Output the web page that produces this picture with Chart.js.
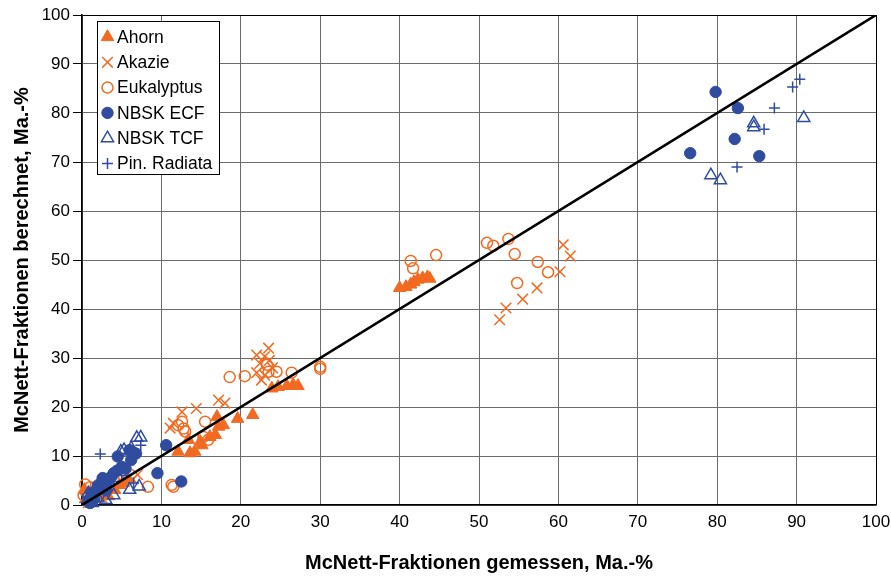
<!DOCTYPE html>
<html>
<head>
<meta charset="utf-8">
<script src="https://cdn.jsdelivr.net/npm/chart.js"></script>
<style>
  body { margin: 0; background: #fff; }
  #wrap { width: 891px; height: 577px; }
</style>
</head>
<body>
<div id="wrap"><canvas id="chart" width="891" height="577"></canvas></div>
<script>
// McNett fractions: measured (x) vs. calculated (y), in Ma.-%
const axisTicks = [0, 10, 20, 30, 40, 50, 60, 70, 80, 90, 100];

const ahornX = [0.3, 1.2, 4.1, 4.7, 5.2, 5.8, 0.8, 1.8, 2.6, 3.3,
  12.1, 13.4, 13.6, 14.2, 14.9, 15.1, 16.1, 16.8, 17.2, 17.8, 17.0, 19.6, 21.5,
  23.9, 24.7, 25.8, 26.6, 27.2,
  40.0, 40.8, 41.4, 41.8, 42.3, 42.9, 43.5, 43.8];
const ahornY = [3.1, 2.4, 3.1, 4.1, 4.5, 5.1, 0.8, 1.4, 2.0, 1.8,
  10.9, 13.3, 10.6, 10.9, 12.9, 12.2, 13.9, 14.3, 16.0, 16.3, 18.0, 17.6, 18.4,
  23.8, 24.1, 24.3, 24.5, 24.3,
  44.3, 44.5, 45.0, 45.5, 46.0, 46.3, 46.5, 46.2];

const akazieX = [0.3, 1.0, 1.8, 2.5, 3.5, 5.0, 6.4, 7.0, 0.8,
  11.1, 11.5, 12.6, 14.4, 17.2, 18.0,
  22.0, 23.5, 23.0, 22.4, 23.6, 22.0, 23.0, 22.6, 24.0,
  52.6, 53.4, 55.5, 57.3, 60.2, 60.6, 61.5];
const akazieY = [1.5, 2.8, 3.6, 1.5, 4.2, 4.8, 5.3, 6.2, 0.5,
  15.7, 16.7, 19.0, 19.7, 21.4, 20.8,
  30.6, 32.0, 30.3, 28.9, 29.5, 27.0, 26.5, 25.5, 28.0,
  37.8, 40.2, 42.0, 44.3, 47.6, 53.1, 50.8];

const eukalyptusX = [0.4, 1.0, 0.2, 1.6, 2.4, 8.3, 11.3, 11.5,
  12.1, 12.6, 12.8, 13.0, 15.5, 15.3, 15.9,
  18.6, 20.5, 23.3, 23.5, 24.5, 26.4, 30.0, 30.0,
  41.4, 41.7, 44.6, 51.0, 51.8, 53.7, 54.5, 54.8, 57.4, 58.7];
const eukalyptusY = [4.2, 3.6, 2.0, 2.8, 4.0, 3.7, 4.1, 3.7,
  16.3, 17.0, 15.6, 15.0, 17.0, 13.9, 13.3,
  26.1, 26.3, 28.6, 27.2, 27.2, 27.0, 28.2, 27.8,
  49.8, 48.3, 51.0, 53.5, 52.9, 54.3, 51.2, 45.3, 49.6, 47.5];

const ecfX = [0.8, 1.2, 1.5, 2.0, 2.6, 3.2, 3.7, 4.4, 5.0, 5.5, 6.2, 6.4,
  4.5, 6.0, 6.8, 2.0, 3.0, 1.0, 4.0, 9.5, 10.6, 12.5,
  79.8, 82.6, 76.6, 82.2, 85.3];
const ecfY = [1.0, 2.4, 1.2, 3.7, 5.5, 4.8, 5.8, 7.0, 7.8, 7.4, 9.2, 10.8,
  9.9, 11.2, 10.5, 4.0, 3.0, 0.4, 6.5, 6.5, 12.2, 4.8,
  84.3, 81.0, 71.8, 74.7, 71.2];

const tcfX = [6.9, 7.4, 5.3, 4.9, 6.2, 6.0, 7.2, 0.8, 2.0, 3.0, 1.3, 4.0,
  84.6, 84.6, 90.9, 79.2, 80.4];
const tcfY = [13.7, 13.8, 11.2, 10.9, 11.6, 3.1, 3.8, 2.4, 1.4, 1.0, 0.4, 2.0,
  77.9, 77.1, 79.0, 67.3, 66.3];

const radiataX = [2.3, 7.4, 0.5, 1.0, 2.0, 3.0, 4.0, 5.0, 6.5, 2.5, 1.5,
  90.4, 89.5, 87.2, 85.9, 82.5];
const radiataY = [10.4, 12.2, 0.5, 1.0, 2.5, 3.5, 4.8, 6.0, 4.5, 5.2, 1.8,
  86.9, 85.3, 81.0, 76.7, 69.0];

const orange = '#F26A21';
const blue = '#2F4C9F';

function points(xs, ys) {
  return xs.map((x, i) => ({ x: x, y: ys[i] }));
}

function series(label, xs, ys, style, radius, color, filled, order) {
  return {
    label: label,
    data: points(xs, ys),
    pointStyle: style,
    pointRadius: radius,
    pointHoverRadius: radius,
    pointBackgroundColor: filled ? color : 'rgba(0,0,0,0)',
    pointBorderColor: color,
    pointBorderWidth: filled ? 1 : 1.5,
    showLine: false,
    clip: false,
    order: order
  };
}

const datasets = [
  {
    label: '',
    data: [{ x: axisTicks[0], y: axisTicks[0] }, { x: axisTicks[10], y: axisTicks[10] }],
    showLine: true,
    borderColor: '#000',
    borderWidth: 2.6,
    pointRadius: 0,
    order: 0
  },
  series('Ahorn', ahornX, ahornY, 'triangle', 7.2, orange, true, 6),
  series('Akazie', akazieX, akazieY, 'crossRot', 7.5, orange, false, 5),
  series('Eukalyptus', eukalyptusX, eukalyptusY, 'circle', 5.5, orange, false, 4),
  series('NBSK ECF', ecfX, ecfY, 'circle', 5.7, blue, true, 3),
  series('NBSK TCF', tcfX, tcfY, 'triangle', 7, blue, false, 2),
  series('Pin. Radiata', radiataX, radiataY, 'cross', 5.5, blue, false, 1)
];

// legend box drawn inside the plot, top-left corner
const boxLegend = {
  id: 'boxLegend',
  afterDraw(chart) {
    const ctx = chart.ctx;
    const area = chart.chartArea;
    const left = area.left + 15, top = area.top + 6;
    const w = 122, h = 153, row = 25.3;
    ctx.save();
    ctx.fillStyle = '#fff';
    ctx.fillRect(left, top, w, h);
    ctx.strokeStyle = '#000';
    ctx.lineWidth = 1;
    ctx.strokeRect(left + 0.5, top + 0.5, w, h);
    ctx.font = '17.5px "Liberation Sans", Arial, sans-serif';
    ctx.textBaseline = 'middle';
    chart.data.datasets.slice(1).forEach((ds, i) => {
      const cy = top + 16 + i * row;
      ctx.fillStyle = ds.pointBackgroundColor;
      ctx.strokeStyle = ds.pointBorderColor;
      ctx.lineWidth = ds.pointBorderWidth;
      Chart.helpers.drawPoint(ctx, {
        pointStyle: ds.pointStyle,
        radius: ds.pointRadius,
        rotation: 0,
        borderWidth: ds.pointBorderWidth
      }, left + 10.5, cy);
      ctx.fillStyle = '#000';
      ctx.fillText(ds.label, left + 20, cy + 1);
    });
    ctx.restore();
  }
};

const tickFont = { family: '"Liberation Sans", Arial, sans-serif', size: 17 };
const titleFont = { family: '"Liberation Sans", Arial, sans-serif', size: 20, weight: 'bold' };

function gridColor(c) {
  return c.tick && c.tick.value === 100 ? '#000' : '#6b6b6b';
}

new Chart(document.getElementById('chart'), {
  type: 'scatter',
  data: { datasets: datasets },
  options: {
    responsive: false,
    animation: false,
    layout: { padding: { top: 15, right: 15, left: 0, bottom: 0 } },
    plugins: {
      legend: { display: false },
      tooltip: { enabled: false }
    },
    scales: {
      x: {
        type: 'linear',
        min: 0,
        max: 100,
        afterFit(scale) {
          scale.height = 72;
          scale.paddingLeft = 0;
          scale.paddingRight = 0;
        },
        afterBuildTicks(scale) { scale.ticks = axisTicks.map(v => ({ value: v })); },
        grid: { color: gridColor, lineWidth: 1, drawTicks: false },
        border: { color: '#000', width: 1.6 },
        ticks: { color: '#000', font: tickFont, padding: 7 },
        title: {
          display: true,
          text: 'McNett-Fraktionen gemessen, Ma.-%',
          color: '#000',
          font: titleFont,
          padding: { top: 0, bottom: 2 }
        }
      },
      y: {
        type: 'linear',
        min: 0,
        max: 100,
        afterFit(scale) {
          scale.width = 82;
          scale.paddingTop = 0;
          scale.paddingBottom = 0;
        },
        afterBuildTicks(scale) { scale.ticks = axisTicks.map(v => ({ value: v })); },
        grid: { color: gridColor, lineWidth: 1, tickLength: 9, tickColor: '#000' },
        border: { color: '#000', width: 1.6 },
        ticks: { color: '#000', font: tickFont, padding: 3 },
        title: {
          display: true,
          text: 'McNett-Fraktionen berechnet, Ma.-%',
          color: '#000',
          font: titleFont,
          padding: { top: 10, bottom: 0 }
        }
      }
    }
  },
  plugins: [boxLegend]
});
</script>
</body>
</html>
